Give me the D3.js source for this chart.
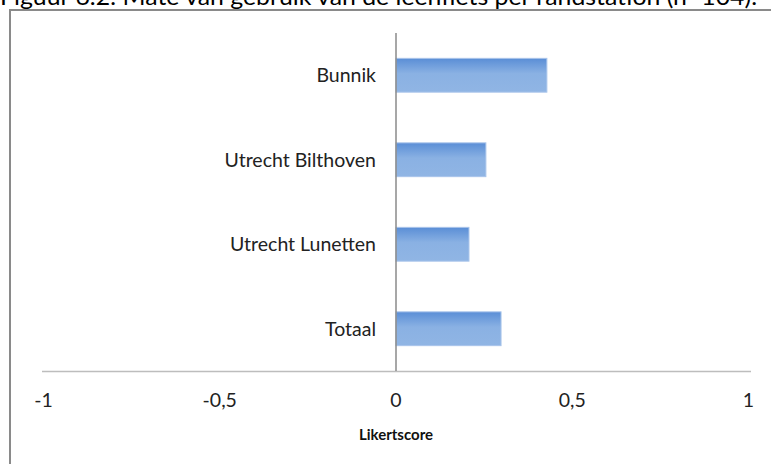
<!DOCTYPE html>
<html><head><meta charset="utf-8">
<script src="https://cdn.jsdelivr.net/npm/d3@7"></script>
<style>body{margin:0;background:#fff;}svg{display:block;}</style>
</head><body>
<script>
const categories = ["Bunnik", "Utrecht Bilthoven", "Utrecht Lunetten", "Totaal"];
const values = [0.428, 0.255, 0.207, 0.298];
const tickValues = [-1, -0.5, 0, 0.5, 1];
const tickLabels = ["-1", "-0,5", "0", "0,5", "1"];
const title = "Figuur 6.2: Mate van gebruik van de leenfiets per randstation (n=104).";
const xTitle = "Likertscore";

const W = 771, H = 464;
const FONT = "Lato, 'Open Sans', sans-serif";
const svg = d3.select("body").append("svg").attr("width", W).attr("height", H);

const defs = svg.append("defs");
const grad = defs.append("linearGradient").attr("id", "barGrad")
  .attr("x1", 0).attr("y1", 0).attr("x2", 0).attr("y2", 1);
grad.append("stop").attr("offset", "0%").attr("stop-color", "#5a8ed6");
grad.append("stop").attr("offset", "45%").attr("stop-color", "#8ab1e3");
grad.append("stop").attr("offset", "100%").attr("stop-color", "#90b5e4");

// title (cut off at top, as in the reference)
svg.append("text").attr("x", 0).attr("y", 5)
  .attr("font-family", FONT).attr("font-size", 24).attr("fill", "#000")
  .attr("textLength", 757).attr("lengthAdjust", "spacingAndGlyphs")
  .text(title);

// outer frame
svg.append("rect").attr("x", 10).attr("y", 10).attr("width", 780).attr("height", 480)
  .attr("fill", "none").attr("stroke", "#8a8a8a").attr("stroke-width", 2);

const x = d3.scaleLinear().domain([-1, 1]).range([43.5, 748.5]);
const y = d3.scaleBand().domain(categories).range([33, 371]).paddingInner(0.6).paddingOuter(0.3);

// bars
svg.selectAll("rect.bar").data(categories).join("rect").attr("class", "bar")
  .attr("x", x(0))
  .attr("y", d => y(d))
  .attr("width", (d, i) => x(values[i]) - x(0))
  .attr("height", y.bandwidth())
  .attr("fill", "url(#barGrad)")
  .attr("stroke", "#a8c4ea").attr("stroke-width", 1);

// horizontal axis line
svg.append("line").attr("x1", 42).attr("x2", 751).attr("y1", 371.5).attr("y2", 371.5)
  .attr("stroke", "#bdbdbd").attr("stroke-width", 1.5);

// vertical axis at 0
svg.append("line").attr("x1", x(0)).attr("x2", x(0)).attr("y1", 33).attr("y2", 371)
  .attr("stroke", "#8a8a8a").attr("stroke-width", 1.5);

// category labels
svg.selectAll("text.cat").data(categories).join("text").attr("class", "cat")
  .attr("x", 376).attr("y", d => y(d) + y.bandwidth() / 2)
  .attr("dy", "0.35em").attr("text-anchor", "end")
  .attr("font-family", FONT).attr("font-size", 19.5).attr("fill", "#222")
  .text(d => d);

// tick labels
svg.selectAll("text.tick").data(tickValues).join("text").attr("class", "tick")
  .attr("x", d => x(d)).attr("y", 400).attr("dy", "0.35em").attr("text-anchor", "middle")
  .attr("font-family", FONT).attr("font-size", 19.5).attr("fill", "#222")
  .text((d, i) => tickLabels[i]);

// axis title
svg.append("text").attr("x", x(0)).attr("y", 435).attr("dy", "0.35em").attr("text-anchor", "middle")
  .attr("font-family", FONT).attr("font-size", 15).attr("font-weight", "bold").attr("fill", "#111")
  .text(xTitle);
</script>
</body></html>
